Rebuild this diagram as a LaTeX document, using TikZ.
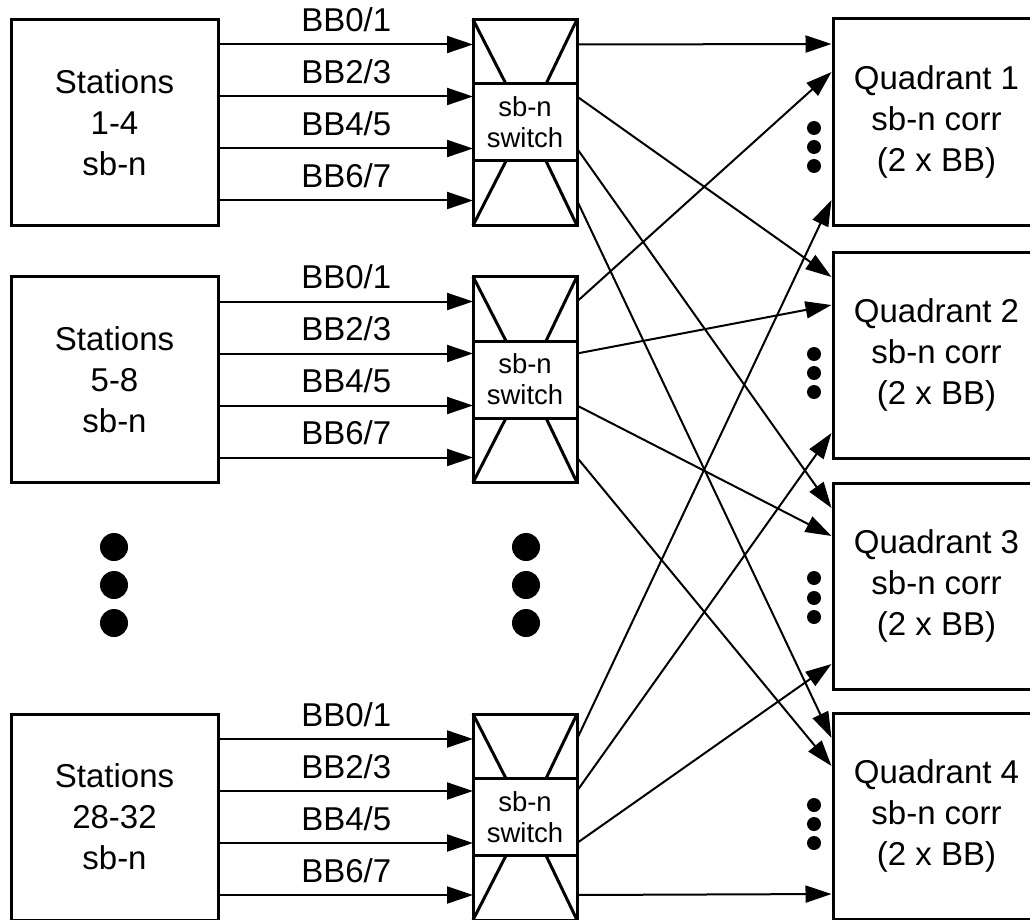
\documentclass[tikz,border=0pt]{standalone}
\usepackage{fontspec}
\setmainfont{Liberation Sans}
\usetikzlibrary{positioning,calc,arrows.meta}
\tikzset{box/.style = {draw,line width=3pt,minimum width=207pt,minimum height=206pt,align=center,font=\fontsize{33}{41}\selectfont}}
\tikzset{swbox/.style = {draw,line width=3pt,outer sep=0pt,minimum width=104pt,minimum height=206pt}}
\tikzset{swcore/.style = {draw,line width=3pt,outer sep=0pt,minimum width=104pt,minimum height=77pt,align=center,font=\fontsize{27.5}{31}\selectfont}}
\tikzset{bus/.style = {line width=2pt,-{Triangle[length=26pt,width=17pt]}}}
\tikzset{bblabel/.style = {midway,anchor=base,yshift=13pt,font=\fontsize{33}{41}\selectfont}}

\begin{document}
\begin{tikzpicture}[x=1pt,y=-1pt]
    \useasboundingbox (0,0) rectangle (1030,920);

    % station groups
    \node [box] (st1) at (114.5,122.5) {Stations\\1-4\\sb-n};
    \node [box] (st2) at (114.5,379.5) {Stations\\5-8\\sb-n};
    \node [box] (st3) at (114.5,817)   {Stations\\28-32\\sb-n};

    % switches
    \foreach \n/\y in {1/122.5,2/379.5,3/817} {
        \node [swbox]  (sw\n)  at (525,\y) {};
        \node [swcore] (swc\n) at (525,\y) {sb-n\\switch};
        \draw [line width=3pt] (sw\n.north west) -- ($(swc\n.north west)+(33,0)$);
        \draw [line width=3pt] (sw\n.north east) -- ($(swc\n.north east)+(-31,0)$);
        \draw [line width=3pt] (sw\n.south west) -- ($(swc\n.south west)+(33,0)$);
        \draw [line width=3pt] (sw\n.south east) -- ($(swc\n.south east)+(-31,0)$);
    }

    % quadrants
    \node [box] (q1) at (936.5,122) {Quadrant 1\\sb-n corr\\(2 x BB)};
    \node [box] (q2) at (936.5,355) {Quadrant 2\\sb-n corr\\(2 x BB)};
    \node [box] (q3) at (936.5,586) {Quadrant 3\\sb-n corr\\(2 x BB)};
    \node [box] (q4) at (936.5,816) {Quadrant 4\\sb-n corr\\(2 x BB)};

    % station -> switch
    \foreach \n in {1,2,3}
        \foreach \dy/\a/\b in {-78/0/1,-26/2/3,26/4/5,78/6/7}
            \draw [bus] ($(st\n.east)+(0,\dy)$) -- ($(sw\n.west)+(0,\dy)$) node [bblabel] {BB\a/\b};

    % switch -> quadrant
    \foreach \n in {1,2,3}
        \foreach \j/\dy in {1/-78,2/-26,3/26,4/78}
            \coordinate (o\n\j) at ($(sw\n.east)+(0,\dy)$);
    \foreach \q in {1,...,4}
        \foreach \i/\dy in {1/-78,2/-50,3/78}
            \coordinate (in\q\i) at ($(q\q.west)+(0,\dy)$);
    \foreach \n in {1,2,3}
        \foreach \q in {1,...,4}
            \draw [bus] (o\n\q) -- (in\q\n);

    % dots
    \foreach \y in {547,585,623} {
        \fill (114,\y) circle (14pt);
        \fill (526,\y) circle (14pt);
    }
    \foreach \y in {128,147,166,354,373,392,578,598,617,805,824,843}
        \fill (814,\y) circle (7pt);
\end{tikzpicture}
\end{document}
